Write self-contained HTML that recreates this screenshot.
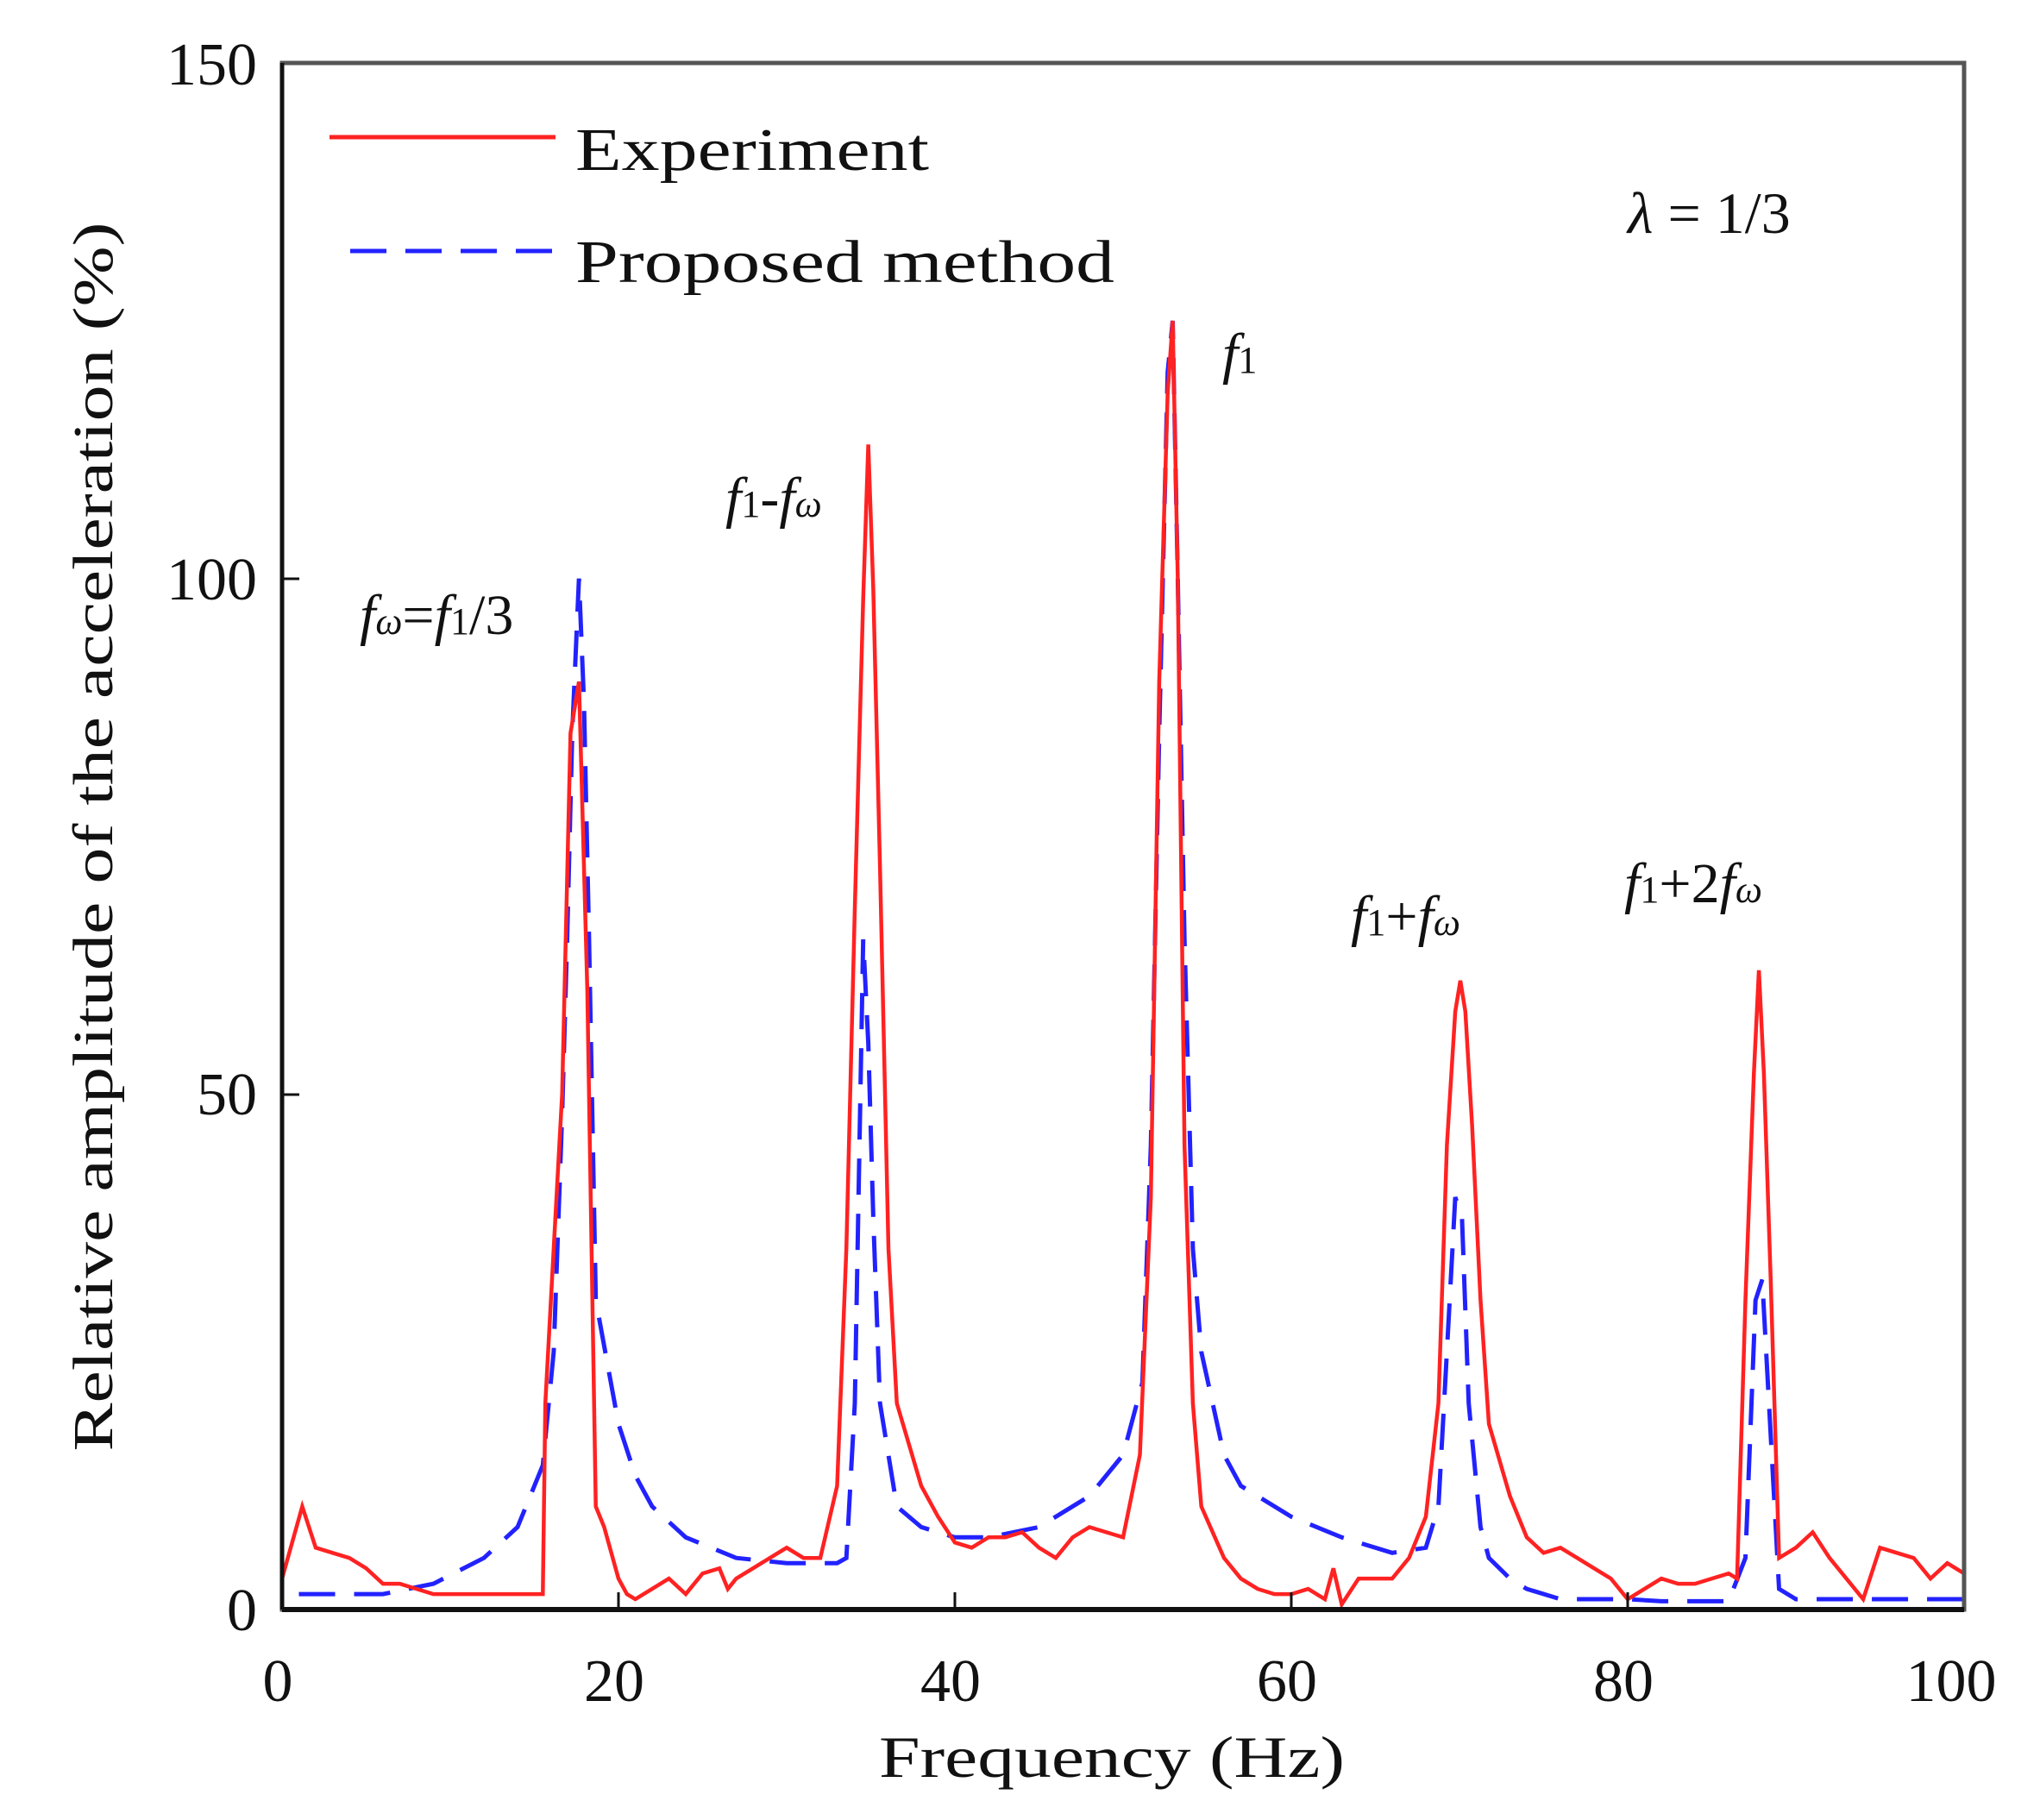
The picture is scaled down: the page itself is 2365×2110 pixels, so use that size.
<!DOCTYPE html>
<html><head><meta charset="utf-8"><style>
html,body{margin:0;padding:0;background:#fff;}
svg{display:block;}
text{font-family:"Liberation Serif",serif;fill:#111;}
</style></head><body>
<svg id="s" width="2365" height="2110" viewBox="0 0 2365 2110" xmlns="http://www.w3.org/2000/svg">
<rect x="0" y="0" width="2365" height="2110" fill="#fff"/>
<g id="plot"></g>
<rect x="327" y="73" width="1950" height="1793" fill="none" stroke="#555" stroke-width="5"/>
<line x1="327" y1="1866" x2="2277" y2="1866" stroke="#111" stroke-width="6"/>
<line x1="327" y1="73" x2="327" y2="1866" stroke="#111" stroke-width="5"/>
<g stroke="#111" stroke-width="3">
<line x1="717" y1="1866" x2="717" y2="1846"/><line x1="1107" y1="1866" x2="1107" y2="1846"/>
<line x1="1497" y1="1866" x2="1497" y2="1846"/><line x1="1887" y1="1866" x2="1887" y2="1846"/>
<line x1="327" y1="1269" x2="347" y2="1269"/><line x1="327" y1="671" x2="347" y2="671"/>
</g>
<g font-size="70" text-anchor="end">
<text x="298" y="98">150</text><text x="298" y="695">100</text>
<text x="298" y="1292">50</text><text x="298" y="1890">0</text>
</g>
<g font-size="70" text-anchor="middle">
<text x="322" y="1972">0</text><text x="712" y="1972">20</text><text x="1102" y="1972">40</text>
<text x="1492" y="1972">60</text><text x="1882" y="1972">80</text><text x="2262" y="1972">100</text>
</g>
<text x="1289" y="2060" font-size="68" text-anchor="middle" textLength="540" lengthAdjust="spacingAndGlyphs">Frequency (Hz)</text>
<text transform="translate(130,970) rotate(-90)" font-size="66" text-anchor="middle" textLength="1425" lengthAdjust="spacingAndGlyphs">Relative amplitude of the acceleration (%)</text>
<line x1="382" y1="159" x2="644" y2="159" stroke="#f22" stroke-width="5"/>
<line x1="406" y1="291" x2="644" y2="291" stroke="#22f" stroke-width="5" stroke-dasharray="42,22"/>
<text x="667" y="197" font-size="70" textLength="410" lengthAdjust="spacingAndGlyphs">Experiment</text>
<text x="667" y="327" font-size="70" textLength="625" lengthAdjust="spacingAndGlyphs">Proposed method</text>
<text x="1887" y="270" font-size="68"><tspan font-style="italic">λ</tspan> = 1/3</text>
<g font-size="66" font-style="italic">
<text x="1417" y="432">f<tspan font-style="normal" font-size="44">1</tspan></text>
<text x="841" y="599">f<tspan font-style="normal" font-size="44">1</tspan>-f<tspan font-size="44">ω</tspan></text>
<text x="417" y="735">f<tspan font-size="44">ω</tspan><tspan font-style="normal">=</tspan>f<tspan font-style="normal" font-size="44">1</tspan><tspan font-style="normal">/3</tspan></text>
<text x="1566" y="1084">f<tspan font-style="normal" font-size="44">1</tspan><tspan font-style="normal">+</tspan>f<tspan font-size="44">ω</tspan></text>
<text x="1883" y="1046">f<tspan font-style="normal" font-size="44">1</tspan><tspan font-style="normal">+2</tspan>f<tspan font-size="44">ω</tspan></text>
</g>
</svg>
<script>
var red=[[0,3],[1.2,10],[2,6],[3,5.5],[4,5],[5,4],[6,2.5],[7,2.5],[8,2],[9,1.5],[10,1.5],[12,1.5],[14,1.5],[15.5,1.5],[16,20],[16.5,35],[17,50],[17.5,85],[18,90],[18.5,60],[19,10],[19.5,8],[20,3],[20.5,1.5],[21,1],[22,2],[23,3],[24,1.5],[25,3.5],[26,4],[26.5,2],[27,3],[28,4],[29,5],[30,6],[31,5],[32,5],[33,12],[34,35],[34.5,68],[35,98],[35.3,113],[35.6,99],[36,72],[36.5,35],[37,20],[38,12],[39,9],[40,6.5],[41,6],[42,7],[43,7],[44,7.5],[45,6],[46,5],[47,7],[48,8],[49,7.5],[50,7],[51,15],[52,40],[52.5,90],[53,118],[53.3,125],[53.6,100],[54,45],[54.5,20],[55,10],[56,5],[57,3],[58,2],[59,1.5],[60,1.5],[61,2],[62,1],[62.5,4],[63,0.5],[64,3],[65,3],[66,3],[67,5],[68,9],[69,20],[69.5,45],[70,58],[70.3,61],[70.6,58],[71,47],[71.5,30],[72,18],[73,11],[74,7],[75,5.5],[76,6],[77,5],[78,4],[79,3],[80,1],[81,2],[82,3],[83,2.5],[84,2.5],[85,3],[86,3.5],[86.5,3],[87,30],[87.5,52],[87.8,62],[88.1,52],[88.5,32],[89,5],[90,6],[91,7.5],[92,5],[93,3],[94,1],[95,6],[96,5.5],[97,5],[98,3],[99,4.5],[100,3.5]];
var blue=[[1,1.5],[6,1.5],[9,2.5],[12,5],[14,8],[15.5,14],[16.5,25],[17,48],[17.3,65],[17.6,85],[18,100],[18.3,88],[18.6,65],[19,30],[20,18],[21,13],[22,10],[24,7],[27,5],[30,4.5],[33,4.5],[34,5],[34.5,20],[35,65],[35.3,55],[35.6,38],[36,20],[37,10],[38,8],[40,7],[42,7],[45,8],[48,11],[50,15],[51.5,22],[52,45],[52.5,85],[53,120],[53.3,125],[53.6,100],[54,65],[54.5,35],[55,25],[56,15],[57,12],[60,9],[63,7],[66,5.5],[68,6],[69,10],[69.5,25],[70,40],[70.4,38],[70.8,20],[71.5,8],[72,5],[73,3],[74,2],[76,1],[80,1],[82,0.8],[86,0.8],[87,5],[87.6,30],[88,32],[88.4,20],[89,2],[90,1],[100,1]];
function sh(x){
 if(x>=15.9&&x<=19.6)return x-0.35;
 if(x>=33.5&&x<=37.5)return x-0.45;
 if(x>=51.5&&x<=55.5)return x-0.35;
 if(x>=69&&x<=72)return x-0.25;
 return x;}
function pts(a){return a.map(function(p){return (327+sh(p[0])*19.5).toFixed(1)+","+(1866-p[1]*11.953).toFixed(1);}).join(" ");}
var g=document.getElementById("plot");
g.innerHTML='<polyline points="'+pts(blue)+'" fill="none" stroke="#22f" stroke-width="5" stroke-dasharray="42,22"/>'+
'<polyline points="'+pts(red)+'" fill="none" stroke="#f22" stroke-width="4.5"/>';
</script>
</body></html>
